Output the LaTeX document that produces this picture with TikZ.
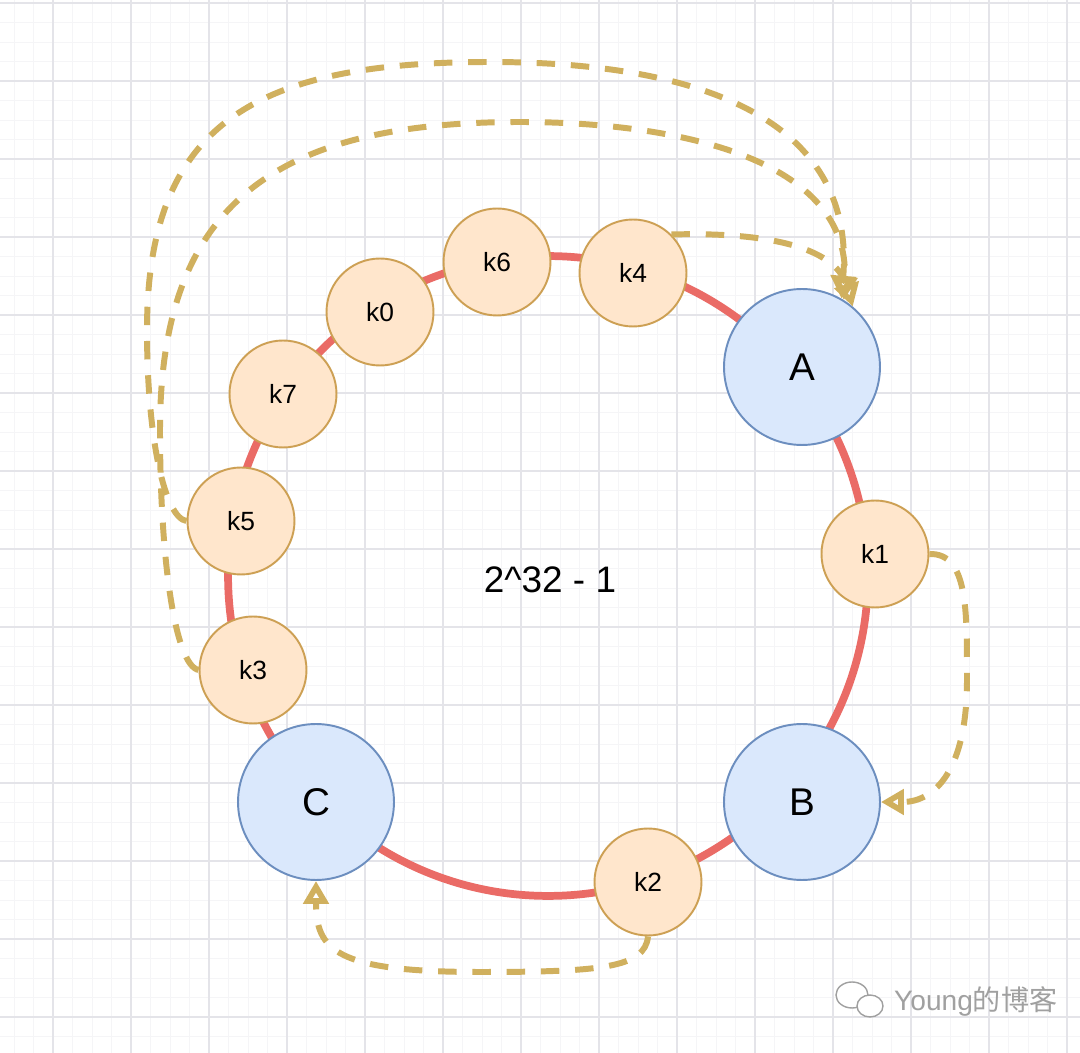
\documentclass[tikz,border=0pt]{standalone}
\usepackage{fontspec}
\setmainfont{Liberation Sans}
\newfontfamily\cjk{Noto Sans CJK SC}
\usetikzlibrary{arrows.meta}
\definecolor{srvF}{RGB}{218,232,252}
\definecolor{srvL}{RGB}{108,142,191}
\definecolor{kF}{RGB}{255,230,204}
\definecolor{kL}{RGB}{205,160,84}
\definecolor{ringL}{RGB}{234,107,102}
\definecolor{hopL}{RGB}{208,176,94}
\definecolor{gMin}{RGB}{245,245,247}
\definecolor{gMaj}{RGB}{228,228,233}
\definecolor{wmk}{RGB}{160,160,160}

\begin{document}
\begin{tikzpicture}[
  x=0.02cm, y=-0.02cm,
  srv/.style={circle, draw=srvL, fill=srvF, line width=1.1pt, minimum size=3.12cm, inner sep=0pt, font=\fontsize{22}{26}\selectfont},
  kn/.style={circle, draw=kL, fill=kF, line width=1.1pt, minimum size=2.14cm, inner sep=0pt, font=\fontsize{15}{18}\selectfont},
  ringln/.style={draw=ringL, line width=4.4pt},
  hop/.style={draw=hopL, line width=3.4pt, dash pattern=on 10.5pt off 9pt, -{Triangle[open, length=13pt, width=14pt]}},
]

% ---------- background grid ----------
\useasboundingbox (0,0) rectangle (1080,1053);
\fill[white] (0,0) rectangle (1080,1053);
\foreach \gx in {14,33.5,...,1080} \draw[gMin, line width=0.5pt] (\gx,0) -- (\gx,1053);
\foreach \gy in {3,22.5,...,1053} \draw[gMin, line width=0.5pt] (0,\gy) -- (1080,\gy);
\foreach \gx in {53,131,...,1080} \draw[gMaj, line width=0.7pt] (\gx,0) -- (\gx,1053);
\foreach \gy in {3,81,...,1053} \draw[gMaj, line width=0.7pt] (0,\gy) -- (1080,\gy);

% ---------- hash ring ----------
\coordinate (o) at (548,576);
\draw[ringln] (o) circle[radius=6.4cm];
\node[font=\fontsize{21}{25}\selectfont] (range) at (550,580) {2\textasciicircum 32 - 1};

% ---------- servers ----------
\node[srv] (A) at (802,367) {A};
\node[srv] (B) at (802,802) {B};
\node[srv] (C) at (316,802) {C};

% ---------- keys ----------
\node[kn] (k1) at (875,554) {k1};
\node[kn] (k2) at (648,882) {k2};
\node[kn] (k3) at (253,670) {k3};
\node[kn] (k5) at (241,521) {k5};
\node[kn] (k7) at (283,394) {k7};
\node[kn] (k0) at (380,312) {k0};
\node[kn] (k6) at (497,262) {k6};
\node[kn] (k4) at (633,273) {k4};

% ---------- lookups (clockwise to next server) ----------
\draw[hop] (k1.east) .. controls (968,553) and (967,610) .. (967,680) .. controls (967,770) and (935,802) .. (B.east);
\draw[hop] (k2.south) .. controls (645,968) and (600,972) .. (480,972) .. controls (335,972) and (316,950) .. (C.south);
\draw[hop] (k5.west) .. controls (165,518) and (147,440) .. (147,330) .. controls (147,120) and (260,62) .. (490,62) .. controls (720,62) and (855,130) .. (A.60);
\draw[hop] (k3.west) .. controls (175,665) and (160,560) .. (160,430) .. controls (160,200) and (280,122) .. (520,122) .. controls (680,122) and (850,160) .. (A.58);
\draw[hop] (k4.45) .. controls (760,232) and (835,245) .. (A.50);

% ---------- watermark ----------
\draw[wmk, line width=0.8pt, fill=white] (852,995) ellipse[x radius=16, y radius=13];
\draw[wmk, line width=0.8pt, fill=white] (870,1006) ellipse[x radius=13, y radius=11];
\node[text=wmk, font=\fontsize{16}{19}\selectfont, anchor=west] (wm) at (888,1001) {Young{\cjk 的博客}};

\end{tikzpicture}
\end{document}
